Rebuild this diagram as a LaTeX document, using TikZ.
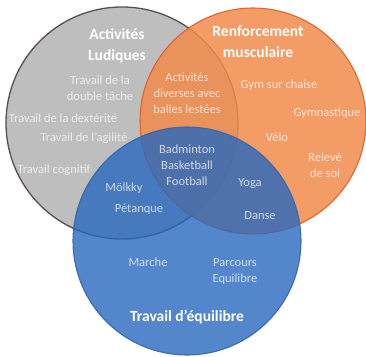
\documentclass[tikz,border=0pt]{standalone}
\usepackage{fontspec}
\setmainfont{Carlito}
\definecolor{grayfill}{RGB}{190,190,190}
\definecolor{grayline}{RGB}{88,80,80}
\definecolor{orfill}{RGB}{241,139,76}
\definecolor{orline}{RGB}{222,92,40}
\definecolor{blfill}{RGB}{40,104,190}
\definecolor{blline}{RGB}{50,100,175}
\begin{document}
\begin{tikzpicture}[x=1pt,y=-1pt,
  txt/.style={text=white, text opacity=0.72, font=\fontsize{12.5}{16}\selectfont, align=center, inner sep=0pt},
  ttl/.style={text=white, font=\bfseries\fontsize{15.5}{21}\selectfont, align=center, inner sep=0pt},
  setg/.style={fill=grayfill, draw=grayline, line width=1.3pt},
  seto/.style={fill=orfill, draw=orline, line width=1.1pt, fill opacity=0.85, draw opacity=0.9},
  setb/.style={fill=blfill, draw=blline, line width=1.1pt, fill opacity=0.8, draw opacity=0.9}]
\useasboundingbox[fill=white] (0,0) rectangle (366,356);
% circles
\path[setg] (122,123) circle[radius=116pt];
\node[txt] (cog) at (54,170) {Travail cognitif};
\path[seto] (253,121) circle[radius=113pt];
\path[setb] (187,241) circle[radius=114pt];
% titles
\node[ttl] (tA) at (117,46) {Activités\\Ludiques};
\node[ttl] (tR) at (258,42) {Renforcement\\musculaire};
\node[ttl] (tT) at (187,317) {Travail d’équilibre};
% gray only
\node[txt] (g1) at (100,88) {Travail de la\\double tâche};
\node[txt] (g2) at (63,118) {Travail de la dextérité};
\node[txt] (g3) at (84,138) {Travail de l’agilité};
% gray & orange
\node[txt] (go) at (187,93) {Activités\\diverses avec\\balles lestées};
% orange only
\node[txt] (o1) at (279,85) {Gym sur chaise};
\node[txt] (o2) at (327,113) {Gymnastique};
\node[txt] (o3) at (277,137) {Vélo};
\node[txt] (o4) at (325,165) {Relevé\\de sol};
% center
\node[txt] (c1) at (187,165) {Badminton\\Basketball\\Football};
% orange & blue
\node[txt] (ob1) at (250,184) {Yoga};
\node[txt] (ob2) at (260,216) {Danse};
% gray & blue
\node[txt] (gb1) at (124,188) {Mölkky};
\node[txt] (gb2) at (139,209) {Pétanque};
% blue only
\node[txt] (b1) at (148,262) {Marche};
\node[txt] (b2) at (235,271) {Parcours\\Equilibre};
\end{tikzpicture}
\end{document}
